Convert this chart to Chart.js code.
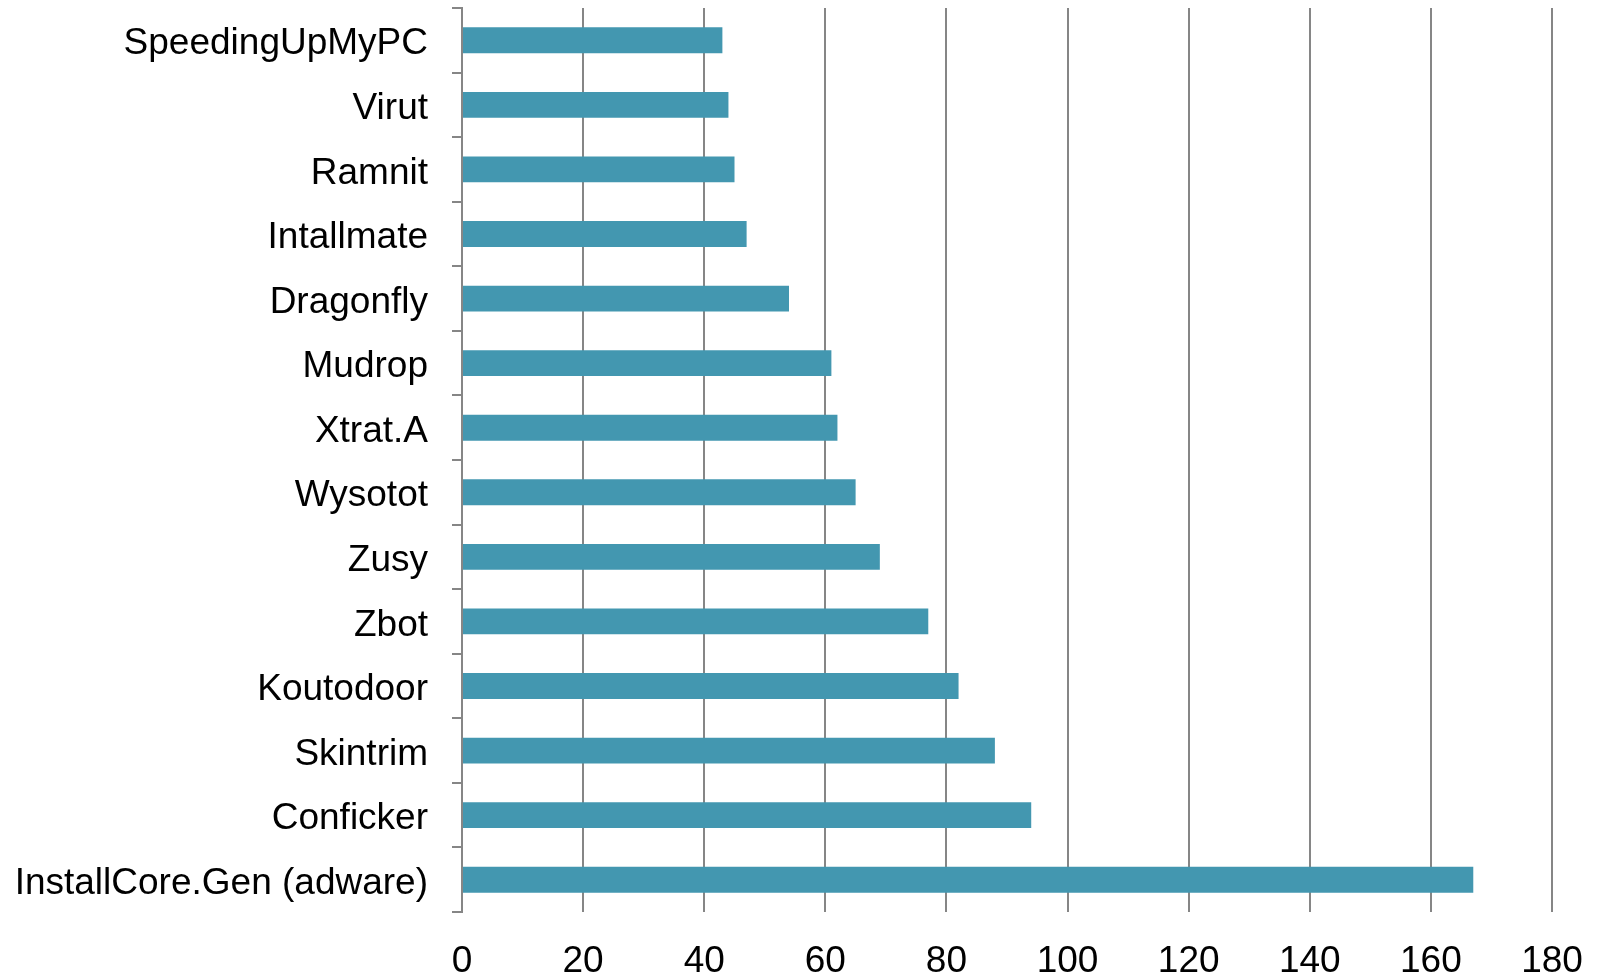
<!DOCTYPE html>
<html>
<head>
<meta charset="utf-8">
<script src="https://cdn.jsdelivr.net/npm/chart.js@4/dist/chart.umd.min.js"></script>
<style>
  body { margin: 0; background: #fff; }
  #chartMalware { display: block; }
</style>
</head>
<body>
<canvas id="chartMalware" width="1600" height="974"></canvas>
<script>
    const categories = [
      "SpeedingUpMyPC", "Virut", "Ramnit", "Intallmate", "Dragonfly", "Mudrop", "Xtrat.A",
      "Wysotot", "Zusy", "Zbot", "Koutodoor", "Skintrim", "Conficker", "InstallCore.Gen (adware)"
    ];
    const detections = [43, 44, 45, 47, 54, 61, 62, 65, 69, 77, 82, 88, 94, 167];
    const xTicks = [0, 20, 40, 60, 80, 100, 120, 140, 160, 180];

    const gridGrey = '#868686';
    const barColor = '#4397B0';

    const ctx = document.getElementById('chartMalware').getContext('2d');
    const chart = new Chart(ctx, {
      type: 'bar',
      data: {
        labels: categories,
        datasets: [{ data: detections, backgroundColor: barColor, borderWidth: 0,
                     barPercentage: 0.4, categoryPercentage: 1.0 }]
      },
      options: {
        indexAxis: 'y',
        responsive: false,
        animation: false,
        layout: { padding: { top: 8, right: 48, left: 0, bottom: 0 } },
        plugins: { legend: { display: false }, tooltip: { enabled: false } },
        scales: {
          x: {
            min: xTicks[0],
            max: xTicks[xTicks.length - 1],
            afterBuildTicks: (s) => { s.ticks = xTicks.map(v => ({ value: v })); },
            // fixed axis height, label overhang handled by layout padding
            afterFit: (s) => { s.height = 62; s.paddingLeft = 0; s.paddingRight = 0; },
            ticks: { color: '#000', padding: 28, font: { family: 'Liberation Sans', size: 37 } },
            grid: { color: gridGrey, lineWidth: 2, drawTicks: false },
            border: { display: false }
          },
          y: {
            afterFit: (s) => { s.width = 462; s.paddingTop = 0; s.paddingBottom = 0; },
            ticks: { color: '#000', padding: 24, labelOffset: 4, font: { family: 'Liberation Sans', size: 37 } },
            grid: { color: gridGrey, lineWidth: 2, drawOnChartArea: false, tickLength: 10, offset: true },
            border: { color: gridGrey, width: 2 }
          }
        }
      }
    });
</script>
</body>
</html>
